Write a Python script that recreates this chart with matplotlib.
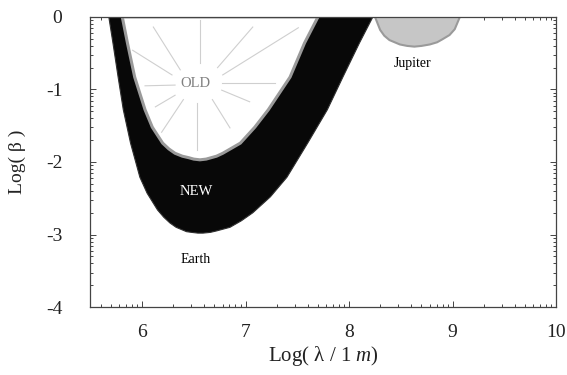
import numpy as np
import matplotlib
matplotlib.use("Agg")
import matplotlib.pyplot as plt
from matplotlib.ticker import FixedLocator

plt.rcParams['font.family'] = ['Liberation Serif', 'DejaVu Serif']
plt.rcParams['mathtext.fontset'] = 'custom'
plt.rcParams['mathtext.rm'] = 'Liberation Serif'
plt.rcParams['mathtext.it'] = 'Liberation Serif:italic'
plt.rcParams['axes.unicode_minus'] = False

# Earth constraint, new (outer, black) boundary: log(lambda), log(beta)
new_x = [5.68, 5.72, 5.77, 5.82, 5.89, 5.98, 6.05, 6.15, 6.21, 6.27, 6.33, 6.38, 6.43, 6.48,
         6.54, 6.59, 6.66, 6.72, 6.85, 6.96, 7.07, 7.24, 7.40, 7.60, 7.79, 7.94, 8.10, 8.23]
new_y = [0.0, -0.36, -0.83, -1.28, -1.74, -2.21, -2.43, -2.66, -2.76, -2.84, -2.90, -2.93, -2.96, -2.97,
         -2.98, -2.98, -2.97, -2.95, -2.90, -2.81, -2.70, -2.48, -2.21, -1.74, -1.28, -0.83, -0.36, 0.0]

# Earth constraint, old (inner) boundary
old_x = [5.81, 5.86, 5.93, 6.03, 6.10, 6.20, 6.26, 6.32, 6.39, 6.45, 6.50, 6.56, 6.62, 6.67, 6.72, 6.78,
         6.95, 7.09, 7.22, 7.43, 7.57, 7.70]
old_y = [0.0, -0.36, -0.83, -1.28, -1.52, -1.74, -1.82, -1.88, -1.92, -1.94, -1.96, -1.97, -1.96, -1.94, -1.92, -1.88,
         -1.74, -1.52, -1.28, -0.83, -0.36, 0.0]

# Jupiter constraint
jup_x = [8.25, 8.30, 8.34, 8.39, 8.49, 8.56, 8.63, 8.70, 8.78, 8.85, 8.90, 8.97, 9.02, 9.07]
jup_y = [0.0, -0.18, -0.26, -0.32, -0.38, -0.40, -0.41, -0.40, -0.38, -0.35, -0.31, -0.25, -0.17, 0.0]

# decorative spokes around the "OLD" label (start -> end)
spoke_x0 = [6.56, 6.53, 6.32, 6.77, 6.37, 6.29, 6.73, 6.78, 6.32, 6.40, 6.77, 6.68]
spoke_y0 = [-0.63, -1.19, -0.94, -0.91, -0.73, -0.80, -0.70, -0.80, -1.08, -1.14, -1.01, -1.14]
spoke_x1 = [6.56, 6.53, 6.03, 7.28, 6.11, 5.91, 7.07, 7.51, 6.13, 6.19, 7.04, 6.85]
spoke_y1 = [-0.04, -1.83, -0.95, -0.91, -0.14, -0.46, -0.14, -0.15, -1.24, -1.59, -1.17, -1.53]

x_major = [6, 7, 8, 9, 10]
y_major = [0, -1, -2, -3, -4]

fig = plt.figure(figsize=(5.67, 3.75), dpi=100)
ax = fig.add_axes([0.159, 0.181, 0.822, 0.774])

ax.fill(new_x, new_y, color='#080808', edgecolor='#303030', linewidth=0.8, zorder=2)
ax.fill(old_x, old_y, facecolor='white', edgecolor='#9a9a9a', linewidth=2.2, zorder=3)
ax.fill(jup_x, jup_y, facecolor='#c6c6c6', edgecolor='#9a9a9a', linewidth=1.5, zorder=2)

for x0, y0, x1, y1 in zip(spoke_x0, spoke_y0, spoke_x1, spoke_y1):
    ax.plot([x0, x1], [y0, y1], color='#cfcfcf', linewidth=0.8, zorder=4)

ax.text(6.52, -0.92, 'OLD', color='#808080', fontsize=10.5, ha='center', va='center', zorder=5)
ax.text(6.52, -2.40, 'NEW', color='white', fontsize=10.5, ha='center', va='center', zorder=5)
ax.text(6.52, -3.35, 'Earth', color='black', fontsize=10, ha='center', va='center', zorder=5)
ax.text(8.61, -0.64, 'Jupiter', color='black', fontsize=10, ha='center', va='center', zorder=5)

ax.set_xlim(5.5, 10)
ax.set_ylim(-4, 0)

ax.xaxis.set_major_locator(FixedLocator(x_major))
ax.yaxis.set_major_locator(FixedLocator(y_major))
ax.xaxis.set_minor_locator(FixedLocator([d + np.log10(k) for d in range(5, 10) for k in range(2, 10)]))
ax.yaxis.set_minor_locator(FixedLocator([d + np.log10(k) for d in range(-4, 0) for k in range(2, 10)]))
ax.set_xticklabels([str(v) for v in x_major])
ax.set_yticklabels([str(v) for v in y_major])

ax.tick_params(which='both', direction='in', top=True, right=True, colors='#444444',
               labelcolor='#222222', labelsize=14, width=0.7)
ax.tick_params(which='major', length=4)
ax.tick_params(which='minor', length=2)
ax.tick_params(axis='x', pad=12)
ax.tick_params(axis='y', pad=20)

for s in ax.spines.values():
    s.set_color('#444444')
    s.set_linewidth(0.9)
    s.set_zorder(6)

ax.set_xlabel(r'Log( λ / 1 $\it{m}$)', fontsize=15, color='#222222', labelpad=2)
ax.set_ylabel('Log( β )', fontsize=14, color='#222222', labelpad=14)

fig.savefig('out.png', dpi=100)
